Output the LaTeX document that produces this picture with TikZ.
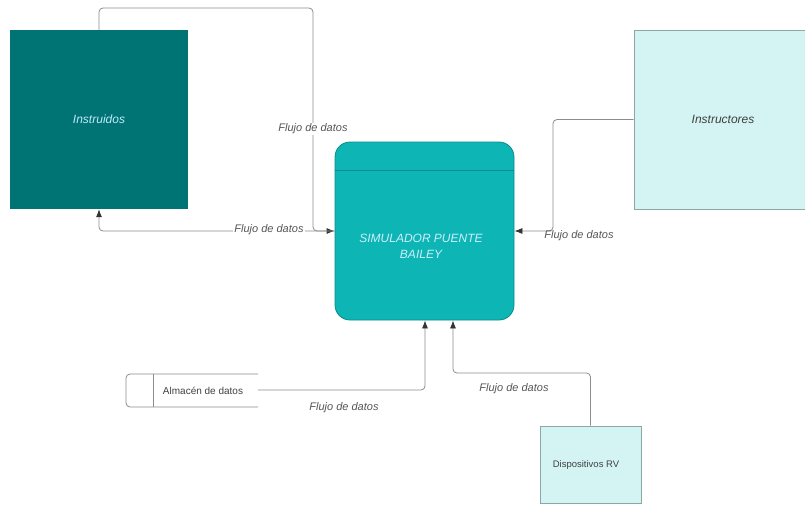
\documentclass[tikz,border=0pt]{standalone}
\usepackage{fontspec}
\setmainfont{Liberation Sans}
\usetikzlibrary{arrows.meta,calc}
\definecolor{darkteal}{HTML}{007474}
\definecolor{midteal}{HTML}{0DB5B5}
\definecolor{simborder}{HTML}{0A8C8C}
\definecolor{paleteal}{HTML}{D3F4F3}
\definecolor{paleborder}{HTML}{8AA8A6}
\definecolor{linegray}{HTML}{8C8C8C}
\definecolor{labelgray}{HTML}{555555}
\tikzset{
  entity/.style={rectangle, inner sep=0pt, font=\fontsize{12}{14}\selectfont\itshape},
  flow/.style={draw=linegray, line width=0.8pt, rounded corners=4pt, arrows={-{Latex[length=8pt,width=6pt,color=black!80]}}},
  flowlabel/.style={font=\fontsize{11}{13}\selectfont\itshape, text=labelgray, inner sep=1pt},
}
\begin{document}
\begin{tikzpicture}[x=1pt,y=-1pt]
\useasboundingbox (0,0) rectangle (805,506);
\clip (0,0) rectangle (805,506);
% entities
\node[entity, fill=darkteal, minimum width=178pt, minimum height=179pt, text=cyan!25] (instruidos) at (99,119.5) {Instruidos};
\node[entity, fill=paleteal, draw=paleborder, line width=0.8pt, minimum width=178pt, minimum height=179pt, text=black!75] (instructores) at (723,119.5) {Instructores};
\node[entity, fill=midteal, draw=simborder, line width=0.8pt, rounded corners=15pt, minimum width=179pt, minimum height=178pt] (sim) at (424.5,231) {};
\node[font=\fontsize{12}{16}\selectfont\itshape, text=cyan!20, align=center] (simtext) at (421,246) {SIMULADOR PUENTE\\BAILEY};
\draw[simborder, line width=0.8pt] ($(sim.north west)+(0,29)$) -- ($(sim.north east)+(0,29)$);
\node[rectangle, fill=paleteal, draw=paleborder, line width=0.8pt, minimum width=101pt, minimum height=77pt, inner sep=0pt, font=\fontsize{9.5}{11}\selectfont, text=black!75] (disp) at (590.5,464.5) {};
\node[font=\fontsize{9.5}{11}\selectfont, text=black!75] (disptext) at (586,465) {Dispositivos RV};
% data store
\draw[linegray, line width=0.8pt, rounded corners=4pt] (258,374) -- (126,374) -- (126,407) -- (258,407);
\draw[linegray, line width=0.8pt] (153,374) -- (153,407);
\node[font=\fontsize{10}{12}\selectfont, text=black!75] (almacen) at (203,390.5) {Almacén de datos};
\coordinate (almout) at (258,390);
% connectors
\draw[flow] (instruidos.north) -- (99,8) -- (313,8) -- (313,231) -- (sim.west);
\draw[flow] (sim.west) -- (99,231) -- (instruidos.south);
\draw[flow] (instructores.west) -- (553,119.5) -- (553,231) -- (sim.east);
\draw[flow] (almout) -- (425,390) -- ($(sim.south)+(0.5,0)$);
\draw[flow] (disp.north) -- (590.5,373) -- (453,373) -- ($(sim.south)+(28.5,0)$);
% labels
\node[flowlabel, fill=white] (l1) at (313,129) {Flujo de datos};
\node[flowlabel, fill=white] (l2) at (269,229.5) {Flujo de datos};
\node[flowlabel] (l3) at (579,236) {Flujo de datos};
\node[flowlabel] (l4) at (344,408) {Flujo de datos};
\node[flowlabel] (l5) at (514,389) {Flujo de datos};
\end{tikzpicture}
\end{document}
